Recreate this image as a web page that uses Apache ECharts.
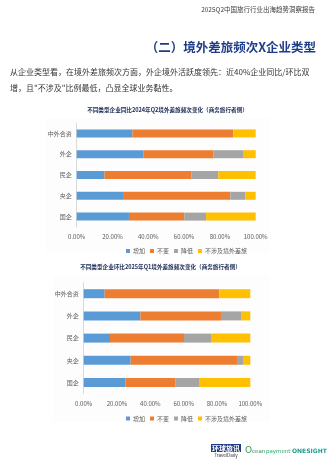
<!DOCTYPE html>
<html><head><meta charset="utf-8">
<script src="https://cdn.jsdelivr.net/npm/echarts@6/dist/echarts.min.js"></script>
<style>html,body{margin:0;padding:0;background:#fff}#c{width:328px;height:463px}</style>
</head><body><div id="c"></div>
<script>
const categories = ['国企','央企','民企','外企','中外合资'];
const seriesNames = ['增加','不变','降低','不涉及境外差旅'];
// Chart 1: YoY vs 2024Q2 (bottom→top order matches categories)
const yoyIncrease = [0.292, 0.259, 0.155, 0.374, 0.311];
const yoySame     = [0.309, 0.599, 0.487, 0.391, 0.564];
const yoyDecrease = [0.122, 0.084, 0.149, 0.164, 0.000];
const yoyNone     = [0.277, 0.058, 0.209, 0.071, 0.125];
// Chart 2: QoQ vs 2025Q1
const qoqIncrease = [0.250, 0.282, 0.158, 0.340, 0.126];
const qoqSame     = [0.302, 0.638, 0.444, 0.484, 0.688];
const qoqDecrease = [0.140, 0.036, 0.162, 0.124, 0.000];
const qoqNone     = [0.308, 0.044, 0.236, 0.052, 0.186];
const xTicks = [0, 0.2, 0.4, 0.6, 0.8, 1.0];

const colors = ['#5B9BD5','#ED7D31','#A5A5A5','#FFC000'];
const FONT = '"Noto Sans CJK SC", sans-serif';
const chart = echarts.init(document.getElementById('c'), null, {renderer:'canvas'});

function xAxis(gi){
  return {gridIndex:gi, type:'value', min:0, max:1, interval:0.2,
    axisLine:{show:false}, axisTick:{show:false}, splitLine:{show:false},
    axisLabel:{fontSize:6, color:'#595959', fontFamily:FONT, margin:7,
      formatter:v=>(v*100).toFixed(2)+'%'}};
}
function yAxis(gi){
  return {gridIndex:gi, type:'category', data:categories,
    axisLine:{show:true, lineStyle:{color:'#D9D9D9', width:1}}, axisTick:{show:false},
    axisLabel:{fontSize:6, color:'#595959', fontFamily:FONT, margin:5}};
}
const sets = [[yoyIncrease,yoySame,yoyDecrease,yoyNone],[qoqIncrease,qoqSame,qoqDecrease,qoqNone]];
const series = [];
sets.forEach((set,gi)=>{
  set.forEach((d,i)=>{
    series.push({name:seriesNames[i], type:'bar', stack:'s'+gi, xAxisIndex:gi, yAxisIndex:gi,
      data:d, barWidth: gi===0?8:9, itemStyle:{color:colors[i]}, silent:true});
  });
});
function legend(top){
  return {top:top, left:121, itemWidth:4, itemHeight:4, itemGap:5, icon:'rect',
    data:seriesNames, textStyle:{fontSize:6, color:'#595959', fontFamily:FONT, padding:[0,0,0,-2]}};
}
chart.setOption({
  animation:false,
  textStyle:{fontFamily:FONT},
  grid:[
    {left:76.7, right:72.3, top:123, height:104},
    {left:83.7, right:77.7, top:282.6, height:111}
  ],
  xAxis:[xAxis(0), xAxis(1)],
  yAxis:[yAxis(0), yAxis(1)],
  legend:[legend(243), legend(410.5)],
  series:series,
  graphic:[
    {type:'rect', z:-10, shape:{x:45,y:118,width:225,height:135}, style:{fill:'#FDFDFD'}},
    {type:'rect', z:-10, shape:{x:53,y:276,width:217,height:146}, style:{fill:'#FDFDFD'}},
    {type:'text', right:13, top:6, style:{text:'2025Q2中国旅行行业出海趋势洞察报告', fontSize:6.5, fill:'#404040', fontFamily:FONT}},
    {type:'text', right:12, top:41, style:{text:'（二）境外差旅频次X企业类型', fontSize:12.5, fontWeight:'bold', fill:'#1F3C88', fontFamily:FONT}},
    {type:'text', left:10, top:67.5, style:{text:'从企业类型看，在境外差旅频次方面，外企境外活跃度领先：近40%企业同比/环比双', fontSize:8, fill:'#333333', fontFamily:FONT}},
    {type:'text', left:10, top:83.5, style:{text:'增，且"不涉及"比例最低，凸显全球业务黏性。', fontSize:8, fill:'#333333', fontFamily:FONT}},
    {type:'text', x:167.5, y:110, style:{text:'不同类型企业同比2024年Q2境外差旅频次变化（商务旅行者侧）', fontSize:5.6, fontWeight:'bold', fill:'#1A2A55', fontFamily:FONT, align:'center', verticalAlign:'middle'}},
    {type:'text', x:160.5, y:267.3, style:{text:'不同类型企业环比2025年Q1境外差旅频次变化（商务旅行者侧）', fontSize:5.6, fontWeight:'bold', fill:'#1A2A55', fontFamily:FONT, align:'center', verticalAlign:'middle'}},
    {type:'rect', shape:{x:211,y:444,width:30,height:8}, style:{fill:'#1F3C88'}},
    {type:'text', x:226, y:448.2, style:{text:'环球旅讯', fontSize:7, fontWeight:'bold', fill:'#ffffff', fontFamily:FONT, align:'center', verticalAlign:'middle'}},
    {type:'text', x:226, y:455.5, style:{text:'TravelDaily', fontSize:4.5, fill:'#333333', fontFamily:FONT, align:'center', verticalAlign:'middle'}},
    {type:'text', x:245, y:451, style:{text:'O', fontSize:9, fill:'#2E9E5B', fontFamily:'"DejaVu Sans", sans-serif', verticalAlign:'middle'}},
    {type:'text', x:252, y:451.5, style:{text:'cean', fontSize:5.5, fill:'#3A8F6A', fontFamily:'"DejaVu Sans", sans-serif', verticalAlign:'middle'}},
    {type:'text', x:266, y:451.5, style:{text:'payment', fontSize:5.5, fill:'#2EAA6E', fontFamily:'"DejaVu Sans", sans-serif', verticalAlign:'middle'}},
    {type:'text', x:292, y:451, style:{text:'ONESIGHT', fontSize:6, fontWeight:'bold', fill:'#1E9E8E', fontFamily:'"DejaVu Sans", sans-serif', verticalAlign:'middle'}}
  ]
});
</script></body></html>
